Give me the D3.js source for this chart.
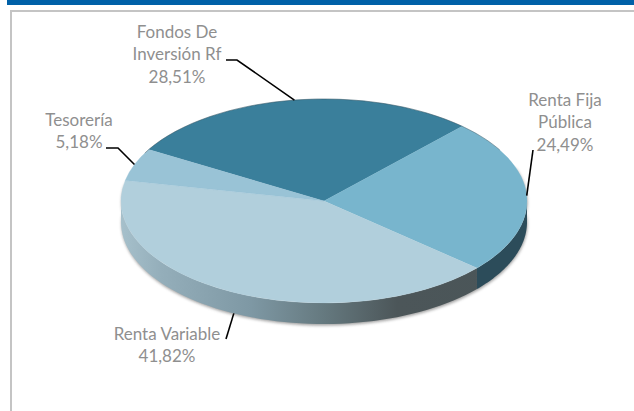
<!DOCTYPE html>
<html>
<head>
<meta charset="utf-8">
<script src="https://cdn.jsdelivr.net/npm/d3@7"></script>
<style>
  html, body { margin: 0; padding: 0; background: #fff; }
  svg { display: block; }
  text { font-family: Lato, "Open Sans", sans-serif; font-size: 17px; fill: #8f8f8f; }
</style>
</head>
<body>
<div id="chart"></div>
<script>
// Chart values
const categories = ["Fondos De Inversión Rf", "Renta Fija Pública", "Renta Variable", "Tesorería"];
const shares = [28.51, 24.49, 41.82, 5.18];
const shareLabels = ["28,51%", "24,49%", "41,82%", "5,18%"];
const labelLines = [["Fondos De", "Inversión Rf"], ["Renta Fija", "Pública"], ["Renta Variable"], ["Tesorería"]];

const width = 634, height = 411;
const cx = 324, cy = 201, rx = 203, ry = 102, depth = 21;
const colors = ["#3a7f9b", "#78b5cd", "#b1cfdc", "#99c3d6"];

// Where each label block goes and how its leader line leaves the pie
const labelPos = [
  { x: 177, y: 38, leader: [[226, 60], [237, 60]] },
  { x: 565, y: 106, leader: [[533, 150]] },
  { x: 167, y: 340, leader: [[226, 339]] },
  { x: 79, y: 126, leader: [[106, 148], [118, 148]] }
];

const svg = d3.select("#chart")
  .append("svg")
  .attr("width", width)
  .attr("height", height)
  .attr("viewBox", [0, 0, width, height]);

const defs = svg.append("defs");
defs.append("filter").attr("id", "soft")
  .attr("x", "-5%").attr("y", "-5%").attr("width", "110%").attr("height", "110%")
  .append("feGaussianBlur").attr("stdDeviation", 1.5);

// Wall shading, light on the left and dark towards the right
const wallGrad = defs.append("linearGradient").attr("id", "wallGrad")
  .attr("gradientUnits", "userSpaceOnUse")
  .attr("x1", cx - rx).attr("x2", cx + rx).attr("y1", 0).attr("y2", 0);
[[0, "#a6c0cb"], [0.1, "#94aeba"], [0.32, "#7e98a4"], [0.5, "#65797f"], [0.68, "#4c5659"], [1, "#4a5558"]]
  .forEach(s => wallGrad.append("stop").attr("offset", s[0]).attr("stop-color", s[1]));

// Page furniture: blue band and the grey frame corner
svg.append("rect").attr("x", 7).attr("y", 0).attr("width", width - 7).attr("height", 5).attr("fill", "#0061a8");
svg.append("path")
  .attr("d", `M11,${height}V11H${width}`)
  .attr("fill", "none")
  .attr("stroke", "#c4c4c4")
  .attr("stroke-width", 2);

const pie = d3.pie()
  .sort(null)
  .startAngle(300.3 * Math.PI / 180)
  .endAngle((300.3 + 360) * Math.PI / 180);
const slices = pie(shares);

// Screen point on the tilted pie rim, angle clockwise from the top
const rim = (a, dy = 0) => [cx + rx * Math.sin(a), cy - ry * Math.cos(a) + dy];
const midAngle = d => (d.startAngle + d.endAngle) / 2;

// Path of the outer wall between two angles
function wallPath(a0, a1) {
  const steps = d3.range(0, 61).map(i => a0 + (a1 - a0) * i / 60);
  const top = steps.map(a => rim(a));
  const bottom = steps.slice().reverse().map(a => rim(a, depth));
  return d3.line()(top.concat(bottom)) + "Z";
}

// Part of a slice that faces the viewer (between 90 and 270 degrees)
function frontPart(d) {
  const lo = Math.PI / 2, hi = 3 * Math.PI / 2;
  for (const turn of [0, 2 * Math.PI]) {
    const a0 = Math.max(d.startAngle - turn, lo), a1 = Math.min(d.endAngle - turn, hi);
    if (a1 > a0) return [a0, a1];
  }
  return null;
}

// Soft shadow under the disc
svg.append("path")
  .attr("d", wallPath(Math.PI / 2 - 0.35, 3 * Math.PI / 2 + 0.2))
  .attr("transform", "translate(0.5,1.5)")
  .attr("fill", "#777")
  .attr("opacity", 0.7)
  .attr("filter", "url(#soft)");

// Outer walls
const wallFill = ["#2b4b59", "#2c4c5a", "url(#wallGrad)", "#a6c0cb"];
slices.forEach((d, i) => {
  const part = frontPart(d);
  if (!part) return;
  svg.append("path")
    .attr("d", wallPath(part[0], part[1]))
    .attr("fill", wallFill[i]);
});

// Top face: a flat d3 arc squashed into an ellipse
const arc = d3.arc().innerRadius(0).outerRadius(rx);
svg.append("g")
  .attr("transform", `translate(${cx},${cy}) scale(1,${ry / rx})`)
  .selectAll("path")
  .data(slices)
  .join("path")
  .attr("d", arc)
  .attr("fill", (d, i) => colors[i])
  .attr("stroke", (d, i) => colors[i])
  .attr("stroke-width", 0.4);

// Thin dark edge along the back of the disc
const backEdge = d3.range(0, 61).map(i => rim((-62 + 122 * i / 60) * Math.PI / 180));
svg.append("path")
  .attr("d", d3.line()(backEdge))
  .attr("fill", "none")
  .attr("stroke", "#2c3e48")
  .attr("stroke-width", 0.7)
  .attr("opacity", 0.55);

// Leader lines run from the label to the middle of each slice
slices.forEach((d, i) => {
  const a = midAngle(d);
  const onWall = Math.cos(a) < 0 && i === 2;
  const end = rim(a, onWall ? depth : 0);
  svg.append("path")
    .attr("d", d3.line()(labelPos[i].leader.concat([end])))
    .attr("fill", "none")
    .attr("stroke", "#000")
    .attr("stroke-width", 1.6);
});

// Labels
labelLines.forEach((lines, i) => {
  const t = svg.append("text")
    .attr("text-anchor", "middle")
    .attr("x", labelPos[i].x)
    .attr("y", labelPos[i].y);
  lines.concat([shareLabels[i]]).forEach((s, j) => {
    t.append("tspan")
      .attr("x", labelPos[i].x)
      .attr("dy", j === 0 ? 0 : 22.3)
      .text(s);
  });
});
</script>
</body>
</html>
